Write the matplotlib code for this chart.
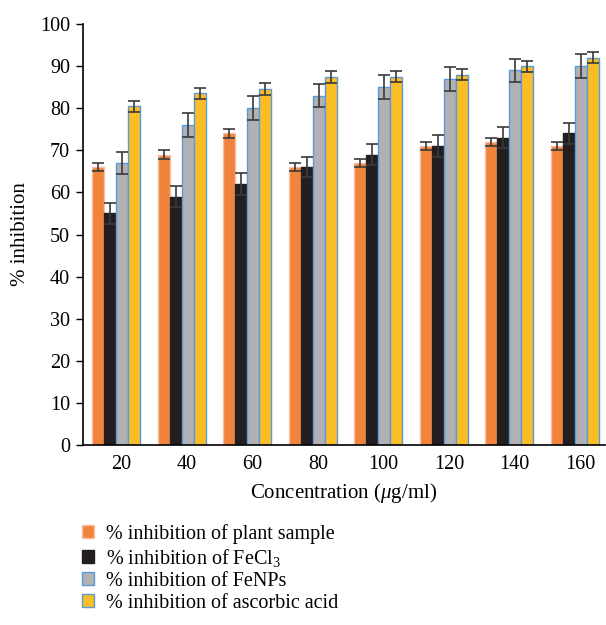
import matplotlib

matplotlib.use("Agg")
import matplotlib.pyplot as plt
import numpy as np

concentrations = ["20", "40", "60", "80", "100", "120", "140", "160"]
plant_sample = [66, 69, 74, 66, 67, 71, 72, 71]
fecl3 = [55, 59, 62, 66, 69, 71, 73, 74]
fenps = [67, 76, 80, 83, 85, 87, 89, 90]
ascorbic = [80.5, 83.5, 84.5, 87.5, 87.5, 88, 90, 92]
plant_err = [1.0, 1.0, 1.0, 1.0, 1.0, 1.0, 1.0, 1.0]
fecl3_err = [2.4, 2.5, 2.5, 2.4, 2.6, 2.6, 2.5, 2.5]
fenps_err = [2.7, 2.8, 2.8, 2.8, 2.8, 2.8, 2.8, 2.8]
ascorbic_err = [1.3, 1.3, 1.4, 1.4, 1.3, 1.3, 1.3, 1.3]

SERIES = [
    ("% inhibition of plant sample", plant_sample, plant_err, "#f0843c", "#f8bfa6"),
    ("% inhibition of FeCl$_3$", fecl3, fecl3_err, "#231f20", "#231f20"),
    ("% inhibition of FeNPs", fenps, fenps_err, "#b1b1b4", "#5b9bd5"),
    ("% inhibition of ascorbic acid", ascorbic, ascorbic_err, "#fbbd26", "#5b9bd5"),
]

plt.rcParams["font.family"] = ["Liberation Serif", "DejaVu Serif"]
plt.rcParams["mathtext.fontset"] = "custom"
plt.rcParams["mathtext.rm"] = "Liberation Serif"
plt.rcParams["mathtext.it"] = "Liberation Serif:italic"

fig = plt.figure(figsize=(6.06, 6.25), dpi=100)
ax = fig.add_axes([0.1365, 0.288, 0.862, 0.6736])

x = np.arange(len(concentrations))
width = 0.183
handles = []
for k, (label, vals, errs, color, edge) in enumerate(SERIES):
    pos = x + (k - 1.5) * width - 0.08
    bars = ax.bar(pos, vals, width=width, color=color, edgecolor=edge,
                  linewidth=1.0, label=label, zorder=2)
    ax.errorbar(pos, vals, yerr=errs, fmt="none", ecolor="#3a3a3a",
                elinewidth=1.2, capsize=4, capthick=1.2, zorder=3)
    handles.append(bars)

ax.set_xlim(-0.594, 7.38)
ax.set_ylim(0, 100)
ax.set_yticks(np.arange(0, 101, 10))
ax.set_xticks(x)
ax.set_xticklabels(concentrations)
ax.tick_params(axis="x", length=0, labelsize=14.5, pad=7)
ax.tick_params(axis="y", length=5, width=1.0, labelsize=14.5, pad=4)
for side in ["top", "right"]:
    ax.spines[side].set_visible(False)
for side in ["left", "bottom"]:
    ax.spines[side].set_linewidth(1.2)
ax.set_xlabel("Concentration ($\\mu$g/ml)", fontsize=15, labelpad=5)
ax.set_ylabel("% inhibition", fontsize=15, labelpad=7)

fig.legend(handles, [s[0] for s in SERIES], loc="upper left",
           bbox_to_anchor=(0.122, 0.175), frameon=False, fontsize=14.5,
           handlelength=0.6, handleheight=0.6, handletextpad=0.6,
           labelspacing=0.15, borderaxespad=0)

fig.savefig("out.png", dpi=100)
